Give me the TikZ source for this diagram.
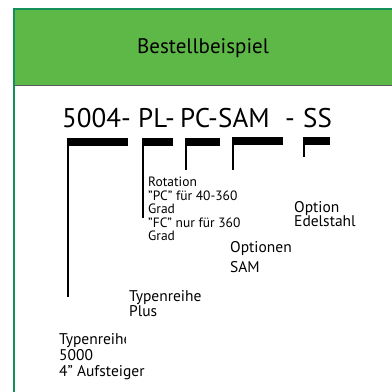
\documentclass[tikz,border=0pt]{standalone}
\usepackage{fontspec}
\setmainfont{PT Sans}
\usetikzlibrary{positioning}
\definecolor{kopfgruen}{HTML}{5EB848}
\definecolor{randgruen}{HTML}{12915A}

\begin{document}
\begin{tikzpicture}[
  x=1pt, y=-1pt,
  balken/.style={fill=black, inner sep=0pt, minimum height=8pt, anchor=north west},
  stiel/.style={line width=2pt},
  lbl/.style={anchor=north west, inner sep=0pt, align=left,
    font=\fontsize{15.5}{14}\selectfont},
  klein/.style={anchor=north west, inner sep=0pt, align=left,
    font=\fontsize{13.5}{13.5}\selectfont},
  code/.style={anchor=base west, inner sep=0pt,
    font=\fontsize{27}{30}\selectfont}
]
\useasboundingbox (0,0) rectangle (392,392);

% -- Kopfzeile --
\node[fill=kopfgruen, anchor=north west, inner sep=0pt,
  minimum width=380pt, minimum height=76pt] (kopf) at (14,9) {};
\node[font=\fontsize{21}{24}\selectfont] (titel) at (203,48) {Bestellbeispiel};
\coordinate (unten) at (14,392);
\draw[black!65, line width=1pt] (kopf.south west) -- (kopf.south east);
\draw[randgruen, line width=1.5pt] (kopf.north east) -- (kopf.north west) -- (unten);

% -- Bestellcode --
\node[code] (t1) at ( 62,127) {5004-};
\node[code] (t2) at (138,127) {PL-};
\node[code] (t3) at (180,127) {PC-};
\node[code] (t4) at (218,127) {SAM};
\node[code] (t5) at (285,127) {-};
\node[code] (t6) at (303,127) {SS};

% -- Balken --
\node[balken, minimum width=61pt] (b1) at ( 67,138) {};
\node[balken, minimum width=31pt] (b2) at (142,138) {};
\node[balken, minimum width=35pt] (b3) at (185,138) {};
\node[balken, minimum width=51pt] (b4) at (232,137) {};
\node[balken, minimum width=27pt] (b5) at (303,137) {};

% -- Stiele --
\coordinate (e1) at ( 68,297);
\coordinate (e2) at (143,218);
\coordinate (e3) at (186,170);
\coordinate (e4) at (233,170);
\coordinate (e5) at (304,157);
\draw[stiel] ([xshift=1pt]b1.south west) -- (e1);
\draw[stiel] ([xshift=1pt]b2.south west) -- (e2);
\draw[stiel] ([xshift=1pt]b3.south west) -- (e3);
\draw[stiel] ([xshift=1pt]b4.south west) -- (e4);
\draw[stiel] ([xshift=1pt]b5.south west) -- (e5);

% -- Beschriftungen --
\node[klein] (rot)  at (148,177) {Rotation\\''PC'' für 40-360\\Grad\\''FC'' nur für 360\\Grad};
\node[lbl]   (ss)   at (294,201) {Option\\Edelstahl};
\node[lbl, font=\fontsize{15.5}{20}\selectfont] (sam) at (230,241) {Optionen\\SAM};
\node[lbl]   (plus) at (129,290) {Typenreihe\\Plus};
\begin{scope}
  \clip (0,320) -- (125,320) -- (125,346) -- (392,346) -- (392,392) -- (0,392) -- cycle;
  \node[lbl, font=\fontsize{15.5}{16}\selectfont] (serie) at (59,333) {Typenreihe\\5000\\4'' Aufsteiger};
\end{scope}

\end{tikzpicture}
\end{document}
